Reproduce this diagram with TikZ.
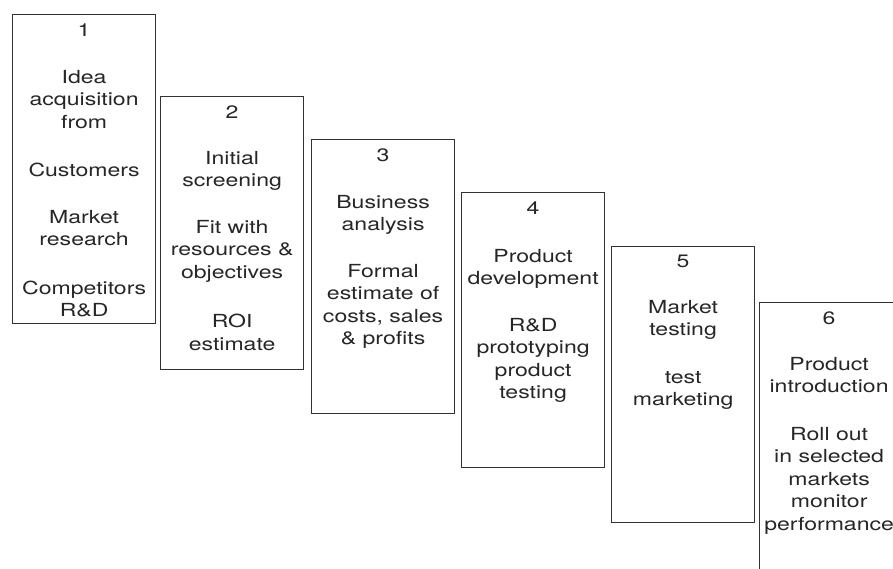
\documentclass[tikz,border=0pt]{standalone}
\usepackage{fontspec}
\setmainfont[FakeStretch=1.28]{TeX Gyre Heros}
\begin{document}
\begin{tikzpicture}[x=1pt,y=-1pt,
  stagebox/.style={draw=black!80,line width=1.2pt,minimum width=143pt,anchor=north west,inner sep=0pt},
  stagetext/.style={anchor=north,align=center,inner sep=0pt,text=black!85,
    font=\fontsize{18}{22.5}\selectfont},
]
\clip (0,0) rectangle (893,569);
\fill[white] (0,0) rectangle (893,569);

% stage frames, stepping down to the right
\node[stagebox,minimum height=309pt] (s1) at (12,14) {};
\node[stagebox,minimum height=273pt] (s2) at (160,96) {};
\node[stagebox,minimum height=274pt] (s3) at (311,139) {};
\node[stagebox,minimum height=275pt] (s4) at (461,192) {};
\node[stagebox,minimum height=276pt] (s5) at (611,246) {};
\node[stagebox,minimum height=290pt] (s6) at (759,302) {};

% stage contents
\node[stagetext] (t1) at ([yshift=-10pt]s1.north) {1\\[24pt]
  Idea\\acquisition\\from\\[26pt]Customers\\[24pt]Market\\research\\[26pt]Competitors\\R\&D};
\node[stagetext] (t2) at ([yshift=-10pt]s2.north) {2\\[23pt]
  Initial\\screening\\[24pt]Fit with\\resources \&\\objectives\\[27pt]ROI\\estimate};
\node[stagetext] (t3) at ([yshift=-10pt]s3.north) {3\\[24pt]
  Business\\analysis\\[24pt]Formal\\estimate of\\costs, sales\\\& profits};
\node[stagetext] (t4) at ([yshift=-10pt]s4.north) {4\\[25pt]
  Product\\development\\[24pt]R\&D\\prototyping\\product\\testing};
\node[stagetext] (t5) at ([yshift=-9pt]s5.north) {5\\[23pt]
  Market\\testing\\[25pt]test\\marketing};
\node[stagetext] (t6) at ([xshift=-2pt,yshift=-10pt]s6.north) {6\\[23pt]
  Product\\introduction\\[25pt]Roll out\\in selected\\markets\\monitor\\performance};
\end{tikzpicture}
\end{document}
